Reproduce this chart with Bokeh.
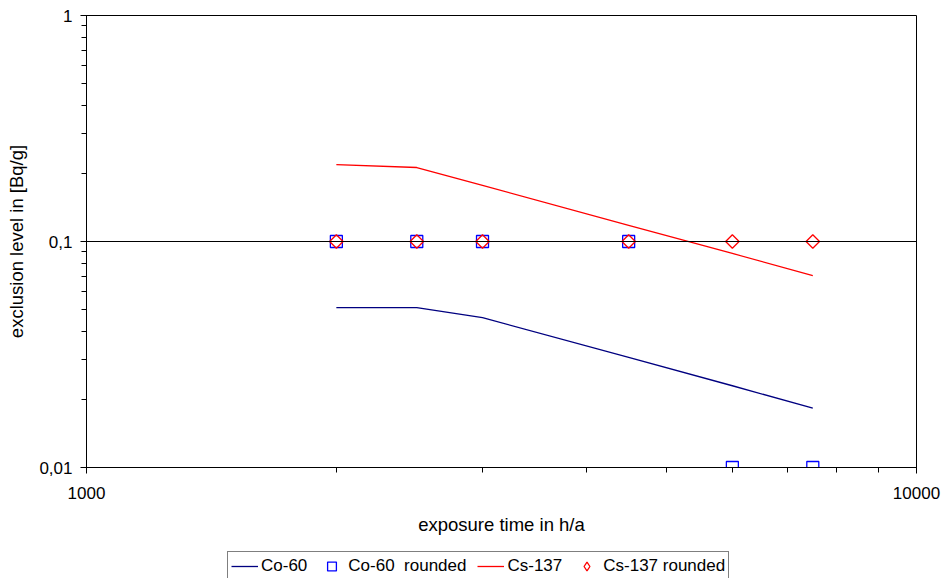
import math
from bokeh.plotting import figure
from bokeh.layouts import column
from bokeh.models import FixedTicker, CustomJSTickFormatter, Span, Legend, LegendItem, Range1d
from bokeh.embed import file_html
from bokeh.resources import INLINE

# data
time = [2000, 2500, 3000, 4500, 6000, 7500]
co60 = [0.051, 0.051, 0.046, 0.0307, 0.023, 0.0183]
cs137 = [0.219, 0.2125, 0.177, 0.118, 0.0885, 0.0707]
co60_rounded = [0.1, 0.1, 0.1, 0.1, 0.01, 0.01]
cs137_rounded = [0.1, 0.1, 0.1, 0.1, 0.1, 0.1]

x_ticks = [1000, 10000]
x_minor = [2000, 3000, 4000, 5000, 6000, 7000, 8000, 9000]
y_ticks = [0.01, 0.1, 1]
y_minor = [0.02, 0.03, 0.04, 0.05, 0.06, 0.07, 0.08, 0.09,
           0.2, 0.3, 0.4, 0.5, 0.6, 0.7, 0.8, 0.9]

FONT = "Liberation Sans"
FS = "17px"
FS_LABEL = "18.5px"

NAVY = "#000080"
BLUE = "#0000ff"
RED = "#ff0000"


def draw_series(fig, legend_strip=False):
    a = fig.line(time, co60, line_color=NAVY, line_width=1.3)
    b = fig.scatter(time, co60_rounded, marker="square", size=12, fill_color=None,
                    line_color=BLUE, line_width=1.3)
    c = fig.line(time, cs137, line_color=RED, line_width=1.3)
    if legend_strip:
        d = fig.scatter(time, cs137_rounded, marker="diamond", size=17,
                        fill_color=None, line_color=RED, line_width=1.3)
    else:
        d = fig.scatter(time, cs137_rounded, marker="square", angle=math.pi / 4, size=9.5,
                        fill_color=None, line_color=RED, line_width=1.3)
    return a, b, c, d


p = figure(width=945, height=540, x_axis_type="log", y_axis_type="log",
           x_range=(1000, 10000), y_range=(0.01, 1),
           output_backend="svg", toolbar_location=None,
           min_border_left=86, min_border_right=29, min_border_top=15, min_border_bottom=73)

p.outline_line_color = "black"
p.outline_line_width = 1
p.xgrid.visible = False
p.ygrid.visible = False

p.add_layout(Span(location=0.1, dimension="width", line_color="black", line_width=1))

draw_series(p)

fmt_code = "return String(Math.round(tick*100)/100).replace('.', ',');"

for ax, ticks, minor in ((p.xaxis[0], x_ticks, x_minor), (p.yaxis[0], y_ticks, y_minor)):
    ax.ticker = FixedTicker(ticks=ticks, minor_ticks=minor)
    ax.formatter = CustomJSTickFormatter(code=fmt_code)
    ax.axis_line_color = "black"
    ax.major_tick_line_color = "black"
    ax.minor_tick_line_color = "black"
    ax.major_tick_out = 6
    ax.major_tick_in = 1
    ax.minor_tick_out = 5
    ax.minor_tick_in = 0
    ax.major_label_text_font = FONT
    ax.major_label_text_font_size = FS
    ax.major_label_text_color = "black"
    ax.axis_label_text_font = FONT
    ax.axis_label_text_font_size = FS_LABEL
    ax.axis_label_text_font_style = "normal"
    ax.axis_label_text_color = "black"

p.xaxis.axis_label = "exposure time in h/a"
p.yaxis.axis_label = "exclusion level in [Bq/g]"
p.xaxis.major_label_standoff = 13
p.yaxis.major_label_standoff = 8
p.xaxis.axis_label_standoff = 12
p.yaxis.axis_label_standoff = 9

# legend strip below the chart (series drawn out of its view, only the legend shows)
q = figure(width=945, height=38, output_backend="svg", toolbar_location=None,
           x_range=Range1d(0, 1), y_range=Range1d(0, 1),
           x_axis_location=None, y_axis_location=None,
           min_border_left=0, min_border_right=0, min_border_top=0, min_border_bottom=0)
q.outline_line_color = None
q.grid.visible = False
l1, l2, l3, l4 = draw_series(q, legend_strip=True)

legend = Legend(items=[
    LegendItem(label="Co-60", renderers=[l1]),
    LegendItem(label="Co-60  rounded", renderers=[l2]),
    LegendItem(label="Cs-137", renderers=[l3]),
    LegendItem(label="Cs-137 rounded", renderers=[l4]),
], orientation="horizontal", location=(141, -3))
legend.label_text_font = FONT
legend.label_text_font_size = FS
legend.label_text_color = "black"
legend.border_line_color = "black"
legend.border_line_width = 1
legend.glyph_width = 27
legend.glyph_height = 22
legend.label_height = 18
legend.label_standoff = 3
legend.spacing = 11
legend.padding = 3
legend.margin = 0
legend.background_fill_alpha = 1
q.add_layout(legend)

open("out.html", "w").write(file_html(column(p, q), INLINE))
